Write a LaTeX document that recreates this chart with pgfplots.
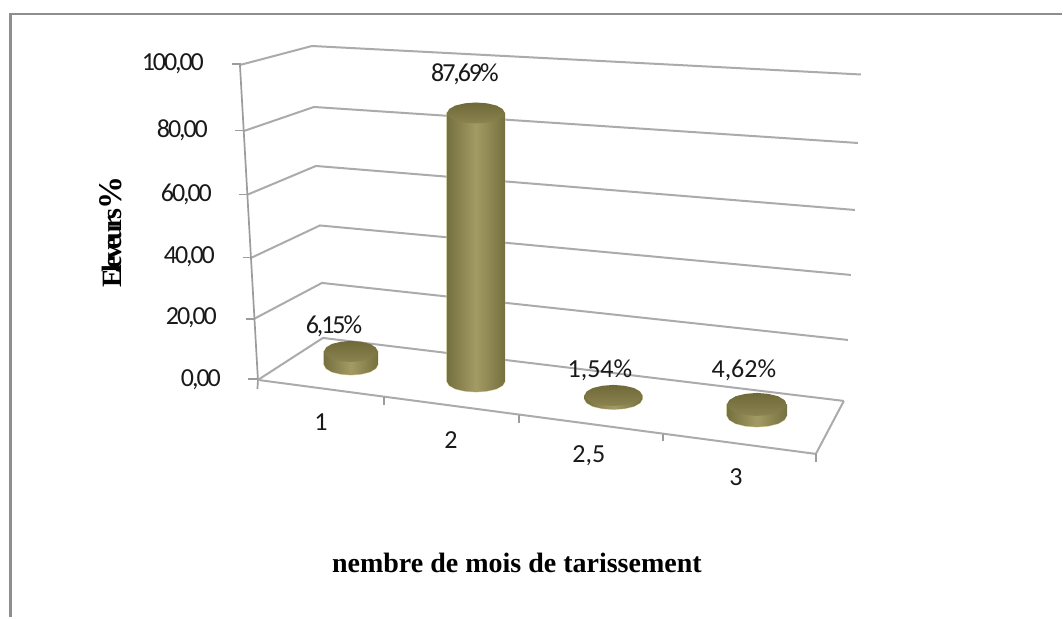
\documentclass[border=0pt]{standalone}
\usepackage{pgfplots}
\usepackage{pgfplotstable}
\usepackage{fontspec}
\pgfplotsset{compat=1.18}
\setmainfont{Carlito}
\newfontfamily\tight[LetterSpace=-8]{Carlito}
\newfontfamily\titlef{Liberation Serif}
\newfontfamily\ytitlef[LetterSpace=-13]{Liberation Serif}
\definecolor{gridc}{HTML}{ABABAB}
\definecolor{axisc}{HTML}{9C9C9C}
\definecolor{framec}{HTML}{8E8E8E}
\definecolor{sidedark}{HTML}{757040}
\definecolor{sidelight}{HTML}{A39B64}
\definecolor{captop}{HTML}{6F6838}
\definecolor{capbot}{HTML}{8B8350}
\definecolor{rimc}{HTML}{D9D3A0}
% unit outline of a cylinder side: u across, t along the height, v on the ellipse
\pgfplotstableread{
u t v
-1 0 0
-0.92 0 0.38
-0.71 0 0.71
-0.38 0 0.92
0 0 1
0.38 0 0.92
0.71 0 0.71
0.92 0 0.38
1 0 0
1 1 0
-1 1 0
}\sideshape
% unit outline of a cylinder cap
\pgfplotstableread{
u v
-1 0
-0.92 0.38
-0.71 0.71
-0.38 0.92
0 1
0.38 0.92
0.71 0.71
0.92 0.38
1 0
0.92 -0.38
0.71 -0.71
0.38 -0.92
0 -1
-0.38 -0.92
-0.71 -0.71
-0.92 -0.38
}\capshape
\newcommand\cyl[5]{% x centre, base row, top row, rx, ry
  \addplot[draw=rimc,line width=1pt,left color=sidedark,right color=sidedark,middle color=sidelight]
    table[x expr=#1+#4*\thisrow{u},y expr=#2+(#3-(#2))*\thisrow{t}+#5*\thisrow{v}] {\sideshape} --cycle;
  \addplot[draw=none,left color=sidedark,right color=sidedark,middle color=sidelight]
    table[x expr=#1+#4*\thisrow{u},y expr=#2+(#3-(#2))*\thisrow{t}+#5*\thisrow{v}] {\sideshape} --cycle;
  \addplot[draw=none,top color=captop,bottom color=capbot]
    table[x expr=#1+#4*\thisrow{u},y expr=#3+#5*\thisrow{v}] {\capshape} --cycle;
}
\begin{document}
\begin{tikzpicture}
\begin{axis}[
  width=1063pt,height=617pt,scale only axis,
  xmin=0,xmax=1063,ymin=0,ymax=617,y dir=reverse,
  hide axis,clip=false,
  every axis plot/.append style={forget plot}]
% page extent
\addplot[draw=none] coordinates {(0,0) (1063,617)};
% frame
\addplot[framec,line width=2.4pt] coordinates {(10.5,617) (10.5,14) (1062,14)};
% gridlines : side wall then back wall
\addplot[gridc,line width=2pt] coordinates {(240,65) (312,46) (861,74.5)};
\addplot[gridc,line width=2pt] coordinates {(244,131) (314,107) (858,143)};
\addplot[gridc,line width=2pt] coordinates {(248,194.5) (316,166) (855,210)};
\addplot[gridc,line width=2pt] coordinates {(251,258) (320,225.5) (851,275)};
\addplot[gridc,line width=2pt] coordinates {(254,319) (322,283) (848,340)};
\addplot[gridc,line width=2pt] coordinates {(258,380) (323,338) (844,401)};
\addplot[gridc,line width=2pt] coordinates {(844,401) (816,454)};
% value axis
\addplot[axisc,line width=1.7pt] coordinates {(240,65) (258,380) (257.5,389)};
\addplot[axisc,line width=1.7pt] coordinates {(232,64) (241,64)};
\addplot[axisc,line width=1.7pt] coordinates {(235,130.5) (244,130.5)};
\addplot[axisc,line width=1.7pt] coordinates {(239,194.5) (248,194.5)};
\addplot[axisc,line width=1.7pt] coordinates {(243,257.5) (251,257.5)};
\addplot[axisc,line width=1.7pt] coordinates {(246,319) (254,319)};
\addplot[axisc,line width=1.7pt] coordinates {(248,379) (258,379)};
% category axis
\addplot[gridc,line width=2pt] coordinates {(258,380) (816,454)};
\addplot[axisc,line width=1.7pt] coordinates {(384,397) (384,405)};
\addplot[axisc,line width=1.7pt] coordinates {(519,415) (519,423)};
\addplot[axisc,line width=1.7pt] coordinates {(663,434) (663,441)};
\addplot[axisc,line width=1.7pt] coordinates {(816,454) (816,462)};
% cylinders
\cyl{351}{364.5}{351.5}{27}{10.5}
\cyl{476}{381.5}{113}{29}{10.5}
\cyl{613.5}{399}{395.5}{29}{10.5}
\cyl{757}{415.5}{404.5}{30}{11.5}
% tick labels
\begin{scope}[every node/.style={font=\fontsize{26}{30}\tight,inner sep=0pt,text=black!90}]
\node[anchor=east] at (axis cs:204,64) {100,00};
\node[anchor=east] at (axis cs:208,130) {80,00};
\node[anchor=east] at (axis cs:212,194) {60,00};
\node[anchor=east] at (axis cs:215,257) {40,00};
\node[anchor=east] at (axis cs:217,318) {20,00};
\node[anchor=east] at (axis cs:221,380) {0,00};
\node at (axis cs:334,326) {6,15\%};
\node at (axis cs:465,74) {87,69\%};
\end{scope}
\begin{scope}[every node/.style={font=\fontsize{26}{30}\selectfont,inner sep=0pt,text=black!90}]
\node at (axis cs:600,370) {1,54\%};
\node at (axis cs:744,370) {4,62\%};
\node at (axis cs:321,422) {1};
\node at (axis cs:451,440) {2};
\node at (axis cs:589,456) {2,5};
\node at (axis cs:736,477) {3};
\end{scope}
% axis titles
\node[rotate=90,inner sep=0pt,anchor=west] at (axis cs:111,288) {\fontsize{28}{28}\ytitlef\bfseries Eleveurs\fontsize{33}{28}\titlef\bfseries\%};
\node[inner sep=0pt] at (axis cs:517,563) {\fontsize{28}{32}\titlef\bfseries nembre de mois de tarissement};
\end{axis}
\end{tikzpicture}
\end{document}
